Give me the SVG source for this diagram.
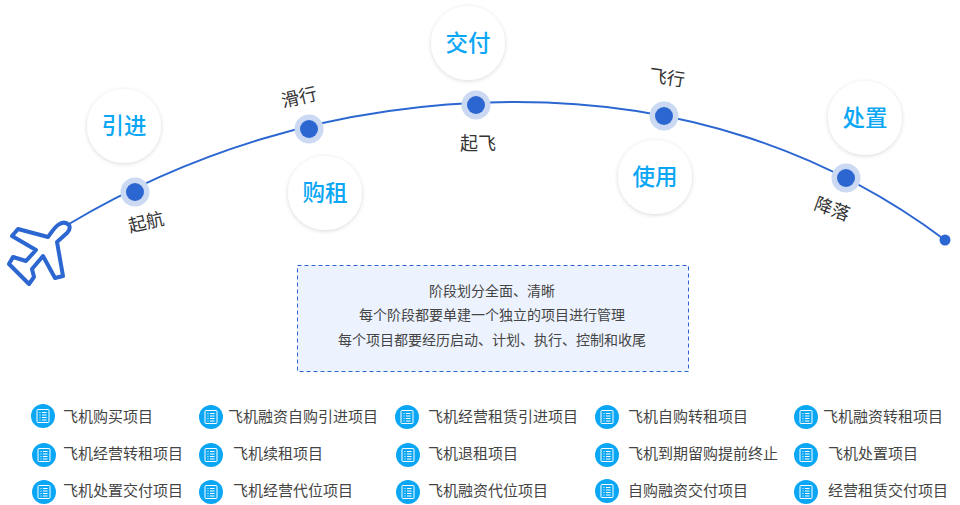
<svg xmlns="http://www.w3.org/2000/svg" width="960" height="505" viewBox="0 0 960 505">
<style>
text{font-family:"Noto Sans CJK SC","Noto Sans",sans-serif}
.c{fill:#fff;filter:url(#s)}
.n{font-size:22.500px;fill:#0ba7f5;text-anchor:middle;font-weight:500}
.h{fill:#cbd9f3}
.d{fill:#2c67d1}
.l{font-size:18px;fill:#333;text-anchor:middle}
.b{font-size:14px;fill:#444;text-anchor:middle}
.i{font-size:15px;fill:#444}
.ib{fill:#0ba7f5}
.ig{fill:none;stroke:#fff;stroke-width:1}
</style>
<defs>
<filter id="s" x="-20%" y="-20%" width="140%" height="140%"><feDropShadow dx="0" dy="1" stdDeviation="2" flood-color="#000" flood-opacity=".16"/></filter>
<g id="ic"><circle class="ib" r="12"/><g class="ig"><rect x="-6" y="-6.500" width="12" height="13" rx="1"/><path d="M-3.500-3.500h1M-1-3.500h4.500M-3.500-1h1M-1-1h4.500M-3.500 1.500h1M-1 1.500h4.500M-3.500 4h1M-1 4h4.500"/></g></g>
</defs>
<g id="connectors">
<path d="M69 224C180 158 330 102 516 102C680 102 825 150 945 240" fill="none" stroke="#2c67d1" stroke-width="2"/>
</g>
<g id="plane"><path d="M69 225C66 222 62 222 58 225C54 228 51 233 48 237L18 229L12 236L36 250L26 261L13 257L9 264L29 284L34 277L32 269L43 256L55 278L63 276L57 242L67 233C70 230 70 227 69 225Z" fill="#fff" stroke="#2c67d1" stroke-width="4" stroke-linejoin="round"/></g>
<g id="stage-1"><circle class="h" cx="135" cy="192" r="14.500"/><circle class="d" cx="135" cy="192" r="9"/><text class="l" transform="translate(147.500 228.500) rotate(-13)">起航</text><circle class="c" cx="124" cy="126" r="37"/><text class="n" x="124" y="134">引进</text></g>
<g id="stage-2"><circle class="h" cx="309" cy="129" r="14.500"/><circle class="d" cx="309" cy="129" r="9"/><text class="l" transform="translate(300.500 103.500) rotate(-13)">滑行</text><circle class="c" cx="325" cy="193" r="37"/><text class="n" x="325" y="201">购租</text></g>
<g id="stage-3"><circle class="h" cx="476" cy="105" r="14.500"/><circle class="d" cx="476" cy="105" r="9"/><text class="l" x="478" y="150">起飞</text><circle class="c" cx="468" cy="43" r="37"/><text class="n" x="468" y="51">交付</text></g>
<g id="stage-4"><circle class="h" cx="664" cy="116" r="14.500"/><circle class="d" cx="664" cy="116" r="9"/><text class="l" transform="translate(666 84) rotate(8)">飞行</text><circle class="c" cx="655" cy="177" r="37"/><text class="n" x="655" y="185">使用</text></g>
<g id="stage-5"><circle class="h" cx="846" cy="178" r="14.500"/><circle class="d" cx="846" cy="178" r="9"/><text class="l" transform="translate(830 215) rotate(20)">降落</text><circle class="c" cx="865" cy="118" r="37"/><text class="n" x="865" y="126">处置</text></g>
<g id="end"><circle class="d" cx="945" cy="240" r="5.500"/></g>
<g id="note"><rect x="297.500" y="265.500" width="391" height="106" fill="#edf3fe" stroke="#2c67d1" stroke-dasharray="4 3"/>
<text class="b" x="492" y="296">阶段划分全面、清晰</text>
<text class="b" x="492" y="320">每个阶段都要单建一个独立的项目进行管理</text>
<text class="b" x="492" y="345">每个项目都要经历启动、计划、执行、控制和收尾</text></g>
<g id="items">
<use href="#ic" x="43" y="416"/><text class="i" x="63" y="422">飞机购买项目</text>
<use href="#ic" x="211" y="417"/><text class="i" x="228" y="422">飞机融资自购引进项目</text>
<use href="#ic" x="407" y="417"/><text class="i" x="428" y="422">飞机经营租赁引进项目</text>
<use href="#ic" x="607" y="417"/><text class="i" x="628" y="422">飞机自购转租项目</text>
<use href="#ic" x="806" y="417"/><text class="i" x="823" y="422">飞机融资转租项目</text>
<use href="#ic" x="44" y="455"/><text class="i" x="63" y="459">飞机经营转租项目</text>
<use href="#ic" x="211" y="455"/><text class="i" x="233" y="459">飞机续租项目</text>
<use href="#ic" x="408" y="455"/><text class="i" x="428" y="459">飞机退租项目</text>
<use href="#ic" x="607" y="455"/><text class="i" x="628" y="459">飞机到期留购提前终止</text>
<use href="#ic" x="806" y="455"/><text class="i" x="828" y="459">飞机处置项目</text>
<use href="#ic" x="44" y="492"/><text class="i" x="63" y="496">飞机处置交付项目</text>
<use href="#ic" x="211" y="492"/><text class="i" x="233" y="496">飞机经营代位项目</text>
<use href="#ic" x="408" y="492"/><text class="i" x="428" y="496">飞机融资代位项目</text>
<use href="#ic" x="607" y="491"/><text class="i" x="628" y="496">自购融资交付项目</text>
<use href="#ic" x="806" y="492"/><text class="i" x="828" y="496">经营租赁交付项目</text>
</g>
</svg>
